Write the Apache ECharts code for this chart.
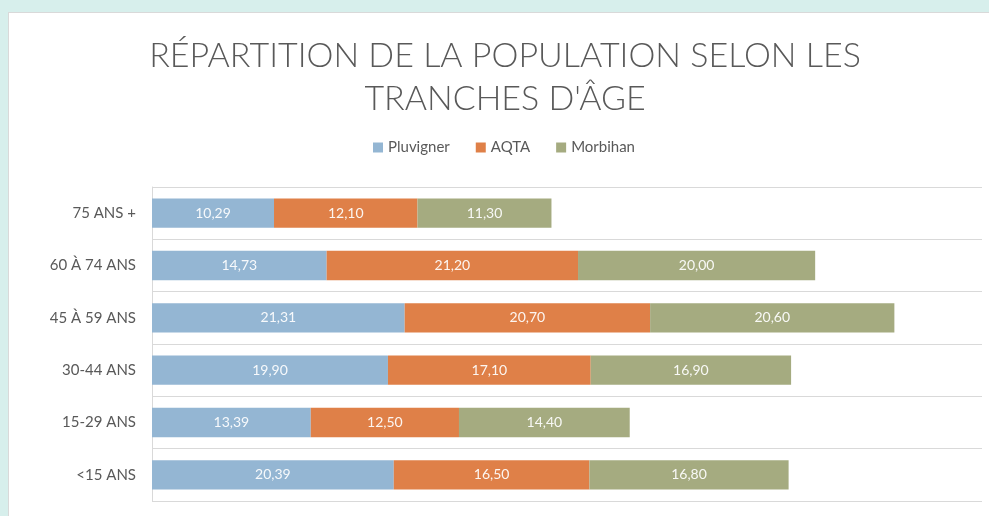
<!DOCTYPE html>
<html>
<head>
<meta charset="utf-8">
<script src="https://cdn.jsdelivr.net/npm/echarts@6/dist/echarts.min.js"></script>
<style>
  html, body { margin: 0; padding: 0; width: 989px; height: 516px; overflow: hidden; background: #d7efec; }
  #panel { position: absolute; left: 8px; top: 12px; width: 992px; height: 520px; background: #fff; border: 1px solid #d9d9d9; }
  #chart { position: absolute; left: 0; top: 0; width: 990px; height: 518px; }
</style>
</head>
<body>
<div id="panel"><div id="chart"></div></div>
<script>
// tranches d'âge, du bas vers le haut
const categories = ['<15 ANS', '15-29 ANS', '30-44 ANS', '45 À 59 ANS', '60 À 74 ANS', '75 ANS +'];
const pluvigner = [20.39, 13.39, 19.90, 21.31, 14.73, 10.29];
const aqta = [16.50, 12.50, 17.10, 20.70, 21.20, 12.10];
const morbihan = [16.80, 14.40, 16.90, 20.60, 20.00, 11.30];

const chart = echarts.init(document.getElementById('chart'));

const fmt = p => p.value.toFixed(2).replace('.', ',');

const barSeries = (name, data, color) => ({
  name: name,
  type: 'bar',
  stack: 'total',
  data: data,
  barWidth: '56%',
  itemStyle: { color: color },
  label: {
    show: true,
    position: 'inside',
    color: 'rgba(255,255,255,0.92)',
    fontFamily: 'Lato',
    fontSize: 14,
    formatter: fmt
  }
});

chart.setOption({
  animation: false,
  textStyle: { fontFamily: 'Lato' },
  title: {
    text: "RÉPARTITION DE LA POPULATION SELON LES\nTRANCHES D'ÂGE",
    left: 491,
    textAlign: 'center',
    top: 17,
    textStyle: {
      fontFamily: 'Lato',
      fontWeight: 300,
      fontSize: 34,
      lineHeight: 43,
      color: '#595959'
    }
  },
  legend: {
    top: 122,
    left: 'center',
    itemWidth: 10,
    itemHeight: 10,
    itemGap: 26,
    icon: 'rect',
    textStyle: { color: '#595959', fontSize: 15, fontFamily: 'Lato' },
    data: ['Pluvigner', 'AQTA', 'Morbihan']
  },
  grid: { left: 143, right: 17, top: 174, bottom: 30 },
  xAxis: {
    type: 'value',
    min: 0,
    max: 70,
    show: false
  },
  yAxis: {
    type: 'category',
    data: categories,
    axisLine: { show: true, lineStyle: { color: '#d9d9d9' } },
    axisTick: { show: false },
    splitLine: { show: true, lineStyle: { color: '#d9d9d9', width: 1 } },
    axisLabel: { color: '#595959', fontSize: 15, fontFamily: 'Lato', margin: 16 }
  },
  series: [
    barSeries('Pluvigner', pluvigner, '#94b6d3'),
    barSeries('AQTA', aqta, '#df8048'),
    barSeries('Morbihan', morbihan, '#a5ab80')
  ]
});
</script>
</body>
</html>
